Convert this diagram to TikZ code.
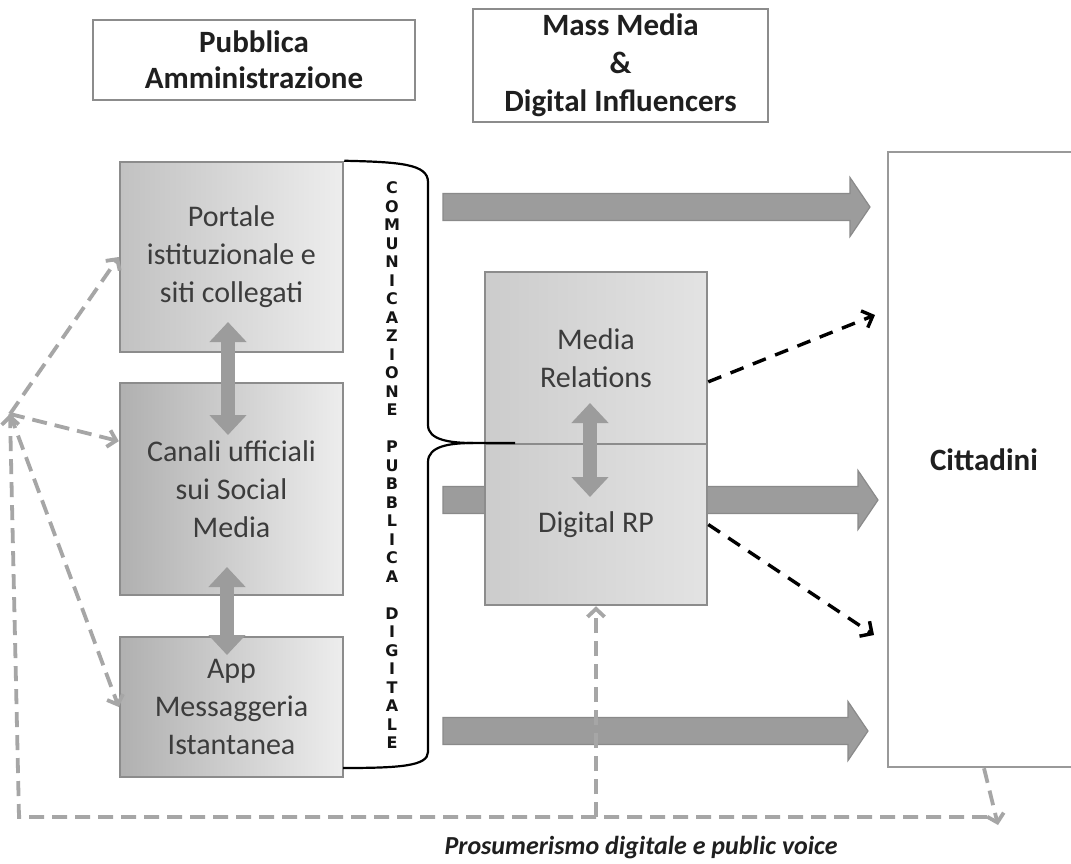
\documentclass[tikz,border=0pt]{standalone}
\usepackage{fontspec}
\setmainfont{Carlito}
\newfontfamily\vertfont{DejaVu Sans}
\usetikzlibrary{arrows.meta,calc}

\definecolor{boxline}{HTML}{8C8C8C}
\definecolor{boxtext}{HTML}{3C3C3C}
\definecolor{arrowfill}{HTML}{9C9C9C}
\definecolor{arrowline}{HTML}{8A8A8A}
\definecolor{dashgray}{HTML}{A6A6A6}

\tikzset{
  titlebox/.style={draw=boxline, line width=2pt, fill=white, align=center,
    inner sep=0pt, text=black!88},
  channel/.style={draw=boxline, line width=2.5pt, left color=#1, right color=black!7,
    minimum width=223pt, align=center, inner sep=0pt, text=boxtext,
    font=\fontsize{30}{38}\selectfont},
  mediabox/.style={draw=boxline, line width=2.5pt, left color=black!20,
    middle color=black!7, right color=black!11, minimum width=222pt,
    align=center, inner sep=0pt, text=boxtext, font=\fontsize{30}{38}\selectfont},
  bigarrow/.style={draw=arrowline, line width=1.2pt, fill=arrowfill,
    to path={let \p1=(\tikztostart), \p2=(\tikztotarget) in
      (\x1,\y1+13.5pt) -- (\x2-20pt,\y1+13.5pt) -- (\x2-20pt,\y1+29.5pt)
      -- (\x2,\y2) -- (\x2-20pt,\y1-29.5pt) -- (\x2-20pt,\y1-13.5pt)
      -- (\x1,\y1-13.5pt) -- cycle}},
  linkarrow/.style={draw=arrowfill, line width=14pt,
    {Triangle[width=36pt,length=20pt]}-{Triangle[width=36pt,length=20pt]}},
  brace/.style={draw=black, line width=2.2pt},
  voice/.style={draw=dashgray, line width=3.8pt, dash pattern=on 15pt off 8pt},
  voicetip/.style={-{Straight Barb[length=8pt,width=17pt]}},
  mediaflow/.style={draw=black, line width=3.4pt, dash pattern=on 14pt off 10pt,
    -{Straight Barb[length=9pt,width=18pt]}}
}

\begin{document}
\begin{tikzpicture}[x=1pt,y=-1pt]
\clip (0,0) rectangle (1071,863);
\fill[white] (0,0) rectangle (1071,863);

% actors
\node[titlebox, minimum width=322pt, minimum height=80pt,
  font=\bfseries\fontsize{31}{36}\selectfont]
  (pa) at (254,60) {Pubblica\\Amministrazione};
\node[titlebox, minimum width=295pt, minimum height=113pt,
  font=\bfseries\fontsize{31}{38}\selectfont]
  (mm) at (620.5,65.5) {Mass Media\\\&\\Digital Influencers};

% flows towards citizens
\coordinate (a1s) at (443,207);  \coordinate (a1e) at (870,207);
\coordinate (a2s) at (443,500);  \coordinate (a2e) at (878,500);
\coordinate (a3s) at (443,731);  \coordinate (a3e) at (868,731);
\draw[bigarrow] (a1s) to (a1e);
\draw[bigarrow] (a2s) to (a2e);
\draw[bigarrow] (a3s) to (a3e);

% channels of the public administration
\node[channel=black!24, minimum height=190pt] (portale) at (231.5,257)
  {Portale\\istituzionale e\\siti collegati};
\node[channel=black!31, minimum height=212pt] (canali) at (231.5,489)
  {Canali ufficiali\\sui Social\\Media};
\node[channel=black!31, minimum height=140pt] (app) at (231.5,707)
  {App\\Messaggeria\\Istantanea};

% media relations block
\node[mediabox, minimum height=172pt] (mr) at (596,358) {Media\\Relations};
\node[mediabox, minimum height=161pt] (rp) at (596,524.5) {Digital RP};

% citizens
\node[draw=black!40, line width=2.5pt, fill=white, minimum width=192pt,
  minimum height=615pt, font=\bfseries\fontsize{31}{36}\selectfont, text=black!88]
  (cit) at (984,459.5) {Cittadini};

% links between channels
\coordinate (l1a) at (228,322); \coordinate (l1b) at (228,435);
\coordinate (l2a) at (227,567); \coordinate (l2b) at (227,655);
\coordinate (l3a) at (590,403); \coordinate (l3b) at (590,497);
\draw[linkarrow] (l1a) -- (l1b);
\draw[linkarrow] (l2a) -- (l2b);
\draw[linkarrow] (l3a) -- (l3b);

% brace grouping the channels
\coordinate (bjoin) at (473,443);
\coordinate (btip) at (515,443);
\coordinate (bend) at (343,768);
\draw[brace] (portale.north east) .. controls (400,162) and (428,164) .. (428,182)
  -- (428,425) .. controls (428,440) and (450,443) .. (bjoin) -- (btip);
\draw[brace] (bjoin) .. controls (450,443) and (428,446) .. (428,462)
  -- (428,752) .. controls (428,766) and (400,768) .. (bend);

\node[font=\vertfont\bfseries\fontsize{16}{18.5}\selectfont, text=black!92,
  align=center, inner sep=0pt] (cpd) at (392,465.5)
  {C\\O\\M\\U\\N\\I\\C\\A\\Z\\I\\O\\N\\E\\\mbox{}\\P\\U\\B\\B\\L\\I\\C\\A\\\mbox{}\\D\\I\\G\\I\\T\\A\\L\\E};

% media relations towards citizens
\coordinate (m1) at (875,315);
\coordinate (m2) at (874,635);
\draw[mediaflow] (mr.-12.7) -- (m1);
\draw[mediaflow] (rp.east) -- (m2);

% feedback loop
\coordinate (hub) at (10,414);
\coordinate (corner) at (19,817);
\coordinate (lineend) at (987,817);
\coordinate (vtip) at (998,825);
\draw[voice, voicetip] (cit.south) -- (vtip);
\draw[voice, voicetip] (lineend) -- (corner) -- (hub);
\draw[voice, voicetip] (rp.south |- corner) -- (rp.south);
\draw[voice, voicetip] (hub) -- (portale.west);
\draw[voice, voicetip] (hub) -- (canali.157.6);
\draw[voice, voicetip] (hub) -- (app.west);

\node[font=\bfseries\itshape\fontsize{26}{30}\selectfont, text=black!88]
  (pv) at (641,848) {Prosumerismo digitale e public voice};
\end{tikzpicture}
\end{document}
